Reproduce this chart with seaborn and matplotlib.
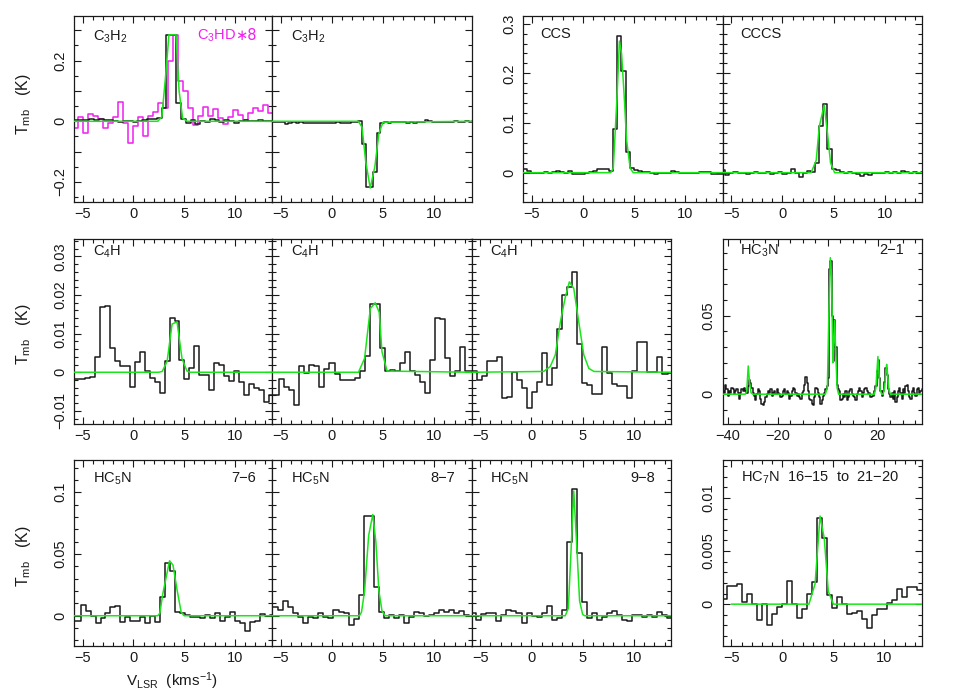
import numpy as np
import seaborn as sns
import matplotlib
matplotlib.use("Agg")
import matplotlib.pyplot as plt
from matplotlib.ticker import MultipleLocator, FuncFormatter

# ---- observed spectra: first channel edge (km/s), channel width (km/s), Tmb (K) per channel ----
c3h2_v0, c3h2_dv = -5.775, 0.475
c3h2_em = [0.004, 0.005, 0.004, 0.006, 0.005, 0.007, 0.004, 0.003, 0.001, -0.003,
           0.000, 0.002, -0.001, 0.002, 0.003, 0.008, 0.006, 0.010, 0.043, 0.285,
           0.285, 0.060, 0.008, -0.004, 0.004, -0.008, 0.002, -0.003, 0.006, 0.003,
           -0.002, 0.004, 0.002, -0.004, 0.001, 0.003, 0.002, 0.001, 0.003, 0.002, 0.001]

c3hd_v0, c3hd_dv = -5.9, 0.49
c3hd_x8 = [-0.023, 0.013, -0.040, 0.023, 0.018, 0.008, -0.023, -0.004, 0.013, 0.065,
           -0.004, -0.070, -0.015, 0.013, -0.048, 0.018, 0.032, 0.060, 0.043, 0.200,
           0.285, 0.134, 0.100, 0.045, -0.011, 0.018, 0.046, 0.018, 0.040, 0.010,
           -0.010, 0.015, 0.037, 0.021, 0.004, 0.026, 0.043, 0.034, 0.054, 0.026]

c3h2_abs_v0, c3h2_abs_dv = -6.06, 0.36
c3h2_abs = [-0.002, -0.001, -0.002, -0.003, -0.009, -0.006, -0.003, -0.004, -0.003, -0.004,
            -0.005, -0.004, -0.005, -0.006, -0.005, -0.004, -0.005, -0.004, -0.003, -0.005,
            -0.004, -0.006, -0.003, -0.002, 0.002, -0.076, -0.215, -0.215, -0.166, -0.040,
            -0.005, -0.003, -0.004, -0.003, -0.002, -0.003, -0.002, -0.004, -0.003, -0.005,
            -0.003, -0.001, 0.004, 0.000, -0.002, -0.001, -0.002, -0.001, -0.002, -0.001,
            0.000, -0.001, -0.001, 0.000, -0.001, 0.000]

ccs_v0, ccs_dv = -5.85, 0.4
ccs = [0.007, 0.003, 0.000, 0.000, -0.001, 0.001, 0.000, 0.001, 0.003, 0.002,
       0.000, 0.003, -0.002, -0.003, -0.003, 0.000, 0.002, 0.003, 0.007, 0.007,
       0.008, 0.004, 0.087, 0.275, 0.205, 0.042, 0.009, 0.006, 0.004, 0.001,
       0.002, -0.001, -0.002, 0.000, 0.000, 0.000, 0.004, 0.002, 0.000, -0.001,
       -0.001, 0.000, 0.000, 0.002, 0.002, 0.001, -0.002, -0.003, -0.002]

cccs_v0, cccs_dv = -6.0, 0.4
cccs = [0.006, -0.004, 0.000, 0.001, -0.001, 0.000, -0.002, 0.000, 0.001, -0.001,
        0.000, 0.001, -0.002, 0.000, 0.001, -0.002, 0.000, 0.008, -0.001, -0.008,
        0.000, 0.003, 0.002, 0.019, 0.093, 0.138, 0.048, 0.008, 0.005, 0.002,
        0.000, 0.001, 0.000, -0.002, -0.006, -0.003, -0.005, 0.000, -0.001, 0.000,
        0.002, 0.000, 0.002, 0.000, 0.003, 0.001, -0.001, 0.002, 0.000, 0.001]

c4h_a_v0, c4h_a_dv = -5.75, 0.49
c4h_a = [-0.0017, -0.0017, -0.0015, -0.0013, 0.0039, 0.0168, 0.0172, 0.0062, 0.0028, 0.0016,
         0.0016, -0.0039, 0.0026, 0.0052, 0.0002, -0.0016, -0.0024, -0.0054, 0.0030, 0.0140,
         0.0133, 0.0032, -0.0017, 0.0010, 0.0068, -0.0007, -0.0007, -0.0047, 0.0023, 0.0019,
         -0.0011, -0.0022, 0.0002, -0.0024, -0.0059, -0.0031, -0.0041, -0.0046, -0.0076, -0.0059]

c4h_b_v0, c4h_b_dv = -6.11, 0.49
c4h_b = [-0.0060, -0.0060, -0.0017, -0.0038, -0.0045, -0.0085, 0.0016, -0.0002, 0.0020, 0.0016,
         -0.0037, 0.0009, 0.0024, -0.0004, -0.0020, -0.0020, -0.0020, -0.0014, 0.0003, 0.0043,
         0.0176, 0.0176, 0.0062, 0.0002, 0.0007, 0.0002, 0.0024, 0.0052, 0.0004, -0.0007,
         -0.0024, -0.0055, 0.0032, 0.0141, 0.0138, 0.0036, -0.0011, 0.0002, 0.0065, 0.0002, 0.0003]

c4h_c_v0, c4h_c_dv = -6.32, 0.49
c4h_c = [0.0003, 0.0003, -0.0020, -0.0010, 0.0030, 0.0030, 0.0040, -0.0066, -0.0063, 0.0000,
         -0.0020, -0.0040, -0.0093, -0.0050, -0.0024, 0.0050, -0.0034, 0.0010, 0.0111, 0.0200,
         0.0220, 0.0260, 0.0073, -0.0028, -0.0033, -0.0057, -0.0057, 0.0066, -0.0001, -0.0030,
         -0.0035, -0.0035, -0.0066, 0.0004, 0.0078, 0.0078, 0.0000, 0.0000, 0.0040, -0.0005, -0.0003]

hc3n_v0, hc3n_dv = -42.0, 0.5
hc3n = [0.002, 0.001, 0.006, 0.003, -0.001, 0.002, 0.001, 0.004, 0.003, 0.000,
        0.002, 0.003, 0.001, -0.003, 0.001, 0.003, 0.002, 0.004, 0.002, 0.001,
        0.005, 0.009, 0.007, 0.004, 0.001, -0.001, -0.004, 0.000, 0.003, 0.002,
        -0.003, -0.006, -0.007, -0.005, -0.002, 0.000, 0.002, 0.001, 0.003, -0.001,
        0.001, 0.002, 0.000, 0.003, 0.001, 0.000, -0.002, -0.001, 0.002, 0.003,
        0.000, 0.002, 0.001, -0.003, -0.001, 0.002, 0.004, 0.003, 0.001, -0.001,
        0.000, -0.002, -0.003, 0.001, 0.002, 0.006, 0.011, 0.007, 0.002, -0.003,
        -0.004, -0.006, -0.007, -0.002, 0.004, 0.003, 0.001, -0.002, -0.006, -0.004,
        -0.001, 0.001, 0.003, 0.005, 0.010, 0.080, 0.085, 0.050, 0.021, 0.047,
        0.030, 0.006, 0.003, 0.002, -0.004, -0.003, 0.000, -0.002, 0.002, -0.004,
        -0.002, 0.002, 0.003, 0.000, -0.001, -0.002, -0.004, 0.000, 0.002, 0.004,
        0.002, -0.002, 0.001, 0.003, 0.004, 0.002, 0.000, 0.001, -0.002, -0.001,
        -0.001, 0.002, 0.005, 0.015, 0.022, 0.010, 0.002, -0.001, 0.002, 0.008,
        0.0165, 0.012, 0.003, 0.000, -0.002, 0.001, -0.003, 0.002, -0.005, -0.002,
        0.002, 0.004, 0.001, -0.003, 0.003, 0.001, 0.005, 0.006, 0.002, -0.002,
        -0.003, 0.002, 0.004, 0.001, -0.001, 0.003, 0.004, 0.001, 0.002, 0.003]

hc5n_76_v0, hc5n_76_dv = -6.18, 0.49
hc5n_76 = [-0.004, -0.004, 0.0084, 0.004, 0.000, -0.006, -0.002, 0.002, 0.007, 0.008,
           -0.005, -0.001, -0.004, -0.004, -0.001, -0.006, 0.000, -0.005, 0.0154, 0.043,
           0.036, 0.003, 0.002, 0.001, -0.001, -0.0013, -0.002, 0.0005, -0.002, 0.002,
           -0.004, -0.001, 0.003, -0.004, -0.006, -0.012, -0.005, -0.004, 0.0013, -0.0003,
           0.0005, 0.000]

hc5n_87_v0, hc5n_87_dv = -6.21, 0.49
hc5n_87 = [0.0073, 0.0073, 0.005, 0.012, 0.007, 0.002, -0.001, -0.006, -0.001, -0.002,
           0.002, -0.001, -0.002, 0.005, 0.003, 0.002, -0.0076, -0.003, 0.017, 0.081,
           0.081, 0.023, 0.003, -0.002, 0.0005, -0.0015, 0.001, -0.006, -0.001, 0.003,
           0.002, 0.000, 0.0005, 0.002, 0.005, 0.003, 0.005, 0.002, 0.004, 0.001, 0.000]

hc5n_98_v0, hc5n_98_dv = -6.36, 0.49
hc5n_98 = [0.000, 0.002, -0.0035, 0.0015, 0.0025, 0.002, -0.004, 0.001, 0.005, 0.004,
           0.0025, -0.006, 0.002, 0.000, -0.001, 0.0025, 0.008, -0.0035, -0.002, 0.0046,
           0.060, 0.1024, 0.0505, 0.011, -0.002, 0.002, -0.0035, -0.001, 0.002, 0.004,
           0.0005, -0.0035, -0.004, 0.0005, 0.001, -0.001, 0.0005, -0.001, 0.003, 0.0005,
           -0.002, -0.001]

hc7n_v0, hc7n_dv = -5.89, 0.49
hc7n = [0.0005, 0.0017, 0.0017, 0.0019, 0.0002, 0.0010, 0.0000, -0.0015, 0.0000, -0.0020,
        -0.0009, -0.0003, 0.0000, 0.0022, 0.0000, -0.0013, -0.0005, 0.0010, 0.0021, 0.0081,
        0.0062, 0.0009, -0.0004, 0.0007, 0.0000, -0.0009, -0.0008, -0.0006, -0.0014, -0.0022,
        -0.0010, -0.0005, -0.0005, 0.0001, 0.0004, 0.0014, 0.0007, 0.0016, 0.0016, 0.0013]

# ---- fitted profiles (green), read as (velocity, Tmb) vertices ----
c3h2_em_fit_v = [-5.85, 2.4, 2.8, 3.2, 3.5, 4.2, 4.5, 4.85, 5.3, 13.65]
c3h2_em_fit_t = [0.0, 0.0, 0.015, 0.16, 0.285, 0.285, 0.10, 0.01, 0.0, 0.0]
c3h2_abs_fit_v = [-5.85, 2.6, 2.95, 3.3, 3.75, 4.2, 4.6, 5.0, 13.65]
c3h2_abs_fit_t = [0.0, 0.0, -0.02, -0.13, -0.22, -0.15, -0.04, -0.003, 0.0]
ccs_fit_v = [-5.85, 2.7, 2.95, 3.3, 3.55, 3.76, 4.0, 4.25, 4.6, 4.9, 13.65]
ccs_fit_t = [0.0, 0.0, 0.009, 0.146, 0.265, 0.24, 0.16, 0.066, 0.009, 0.0, 0.0]
cccs_fit_v = [-5.85, 2.8, 3.3, 3.6, 4.08, 4.4, 4.7, 5.1, 13.65]
cccs_fit_t = [0.0, 0.0, 0.025, 0.093, 0.136, 0.08, 0.02, 0.0, 0.0]
c4h_a_fit_v = [-5.85, 2.5, 2.83, 3.32, 3.81, 4.30, 4.79, 5.28, 5.6, 13.65]
c4h_a_fit_t = [0.0, 0.0, 0.0002, 0.0028, 0.0125, 0.013, 0.0035, 0.0003, 0.0, 0.0]
c4h_b_fit_v = [-5.85, 2.6, 3.2, 3.76, 4.24, 4.63, 4.9, 5.4, 13.65]
c4h_b_fit_t = [0.0, 0.0, 0.0036, 0.0165, 0.018, 0.0155, 0.0053, 0.0003, 0.0]
c4h_c_fit_v = [-5.85, 1.19, 1.84, 2.33, 2.82, 3.31, 3.7, 4.13, 4.62, 5.11, 5.6, 6.1, 13.65]
c4h_c_fit_t = [0.0, 0.0002, 0.0015, 0.0045, 0.013, 0.0195, 0.0234, 0.0217, 0.013, 0.0045, 0.001, 0.0002, 0.0]
hc3n_fit_v = [-42.0, -33.0, -32.4, -31.8, -31.3, -30.7, -30.0, -1.0, -0.2, 0.4, 1.0, 1.5, 2.0,
              2.3, 2.7, 3.2, 3.7, 4.3, 18.6, 19.2, 19.6, 20.0, 20.4, 20.9, 21.5, 22.1, 22.7,
              23.2, 23.5, 23.9, 24.4, 25.0, 37.5]
hc3n_fit_t = [0.0, 0.0, 0.002, 0.018, 0.008, 0.001, 0.0, 0.0, 0.004, 0.05, 0.087, 0.075, 0.02,
              0.03, 0.047, 0.025, 0.004, 0.0, 0.0, 0.004, 0.014, 0.024, 0.014, 0.003, 0.0, 0.0, 0.004,
              0.015, 0.019, 0.012, 0.003, 0.0, 0.0]
hc5n_76_fit_v = [-5.85, 2.4, 2.6, 2.9, 3.56, 3.9, 4.3, 4.7, 5.0, 13.65]
hc5n_76_fit_t = [0.0, 0.0, 0.002, 0.018, 0.0445, 0.041, 0.021, 0.003, 0.0, 0.0]
hc5n_87_fit_v = [-5.85, 2.7, 2.9, 3.2, 3.6, 4.0, 4.3, 4.6, 4.9, 5.2, 13.65]
hc5n_87_fit_t = [0.0, 0.0, 0.003, 0.02, 0.065, 0.082, 0.06, 0.02, 0.004, 0.0, 0.0]
hc5n_98_fit_v = [-5.85, 3.3, 3.6, 3.85, 4.13, 4.4, 4.7, 5.0, 5.2, 13.65]
hc5n_98_fit_t = [0.0, 0.0, 0.006, 0.05, 0.101, 0.06, 0.012, 0.001, 0.0, 0.0]
hc7n_fit_v = [-5.0, 2.6, 3.2, 3.69, 4.1, 4.5, 5.0, 13.65]
hc7n_fit_t = [0.0, 0.0, 0.0019, 0.0083, 0.0062, 0.0012, 0.0, 0.0]

GREEN = "#19e619"
MAGENTA = "#f01ef0"
INK = "#1a1a1a"

sns.set_style("ticks")
plt.rcParams["font.family"] = ["Liberation Sans", "DejaVu Sans"]
plt.rcParams["mathtext.fontset"] = "custom"
plt.rcParams["mathtext.rm"] = "Liberation Sans"
plt.rcParams["mathtext.it"] = "Liberation Sans:italic"
plt.rcParams["mathtext.bf"] = "Liberation Sans:bold"

W, H = 957, 695
fig = plt.figure(figsize=(W / 100, H / 100), dpi=100)


def add_axes(x0, x1, y0, y1):
    # pixel box of the frame -> figure fraction
    return fig.add_axes([x0 / W, 1 - y1 / H, (x1 - x0) / W, (y1 - y0) / H])


def steps(ax, v0, dv, tmb, color=INK, lw=1.1, z=2):
    tmb = np.asarray(tmb, dtype=float)
    edges = v0 + dv * np.arange(len(tmb) + 1)
    sns.lineplot(x=edges, y=np.append(tmb, tmb[-1]), ax=ax, color=color, lw=lw,
                 drawstyle="steps-post", estimator=None, sort=False, zorder=z)


def fit(ax, v, t):
    sns.lineplot(x=np.asarray(v), y=np.asarray(t), ax=ax, color=GREEN, lw=1.1,
                 estimator=None, sort=False, zorder=3)


def label_fmt(every=None):
    def f(val, pos):
        if every is not None and abs(val / every - round(val / every)) > 1e-6:
            return ""
        if abs(val) < 1e-12:
            return "0"
        return ("%g" % val).replace("-", "\u2212")
    return FuncFormatter(f)


def style(ax, xlim, ylim, xt, yt, ylabels=True, yevery=None):
    ax.set_xlim(xlim)
    ax.set_ylim(ylim)
    ax.xaxis.set_major_locator(MultipleLocator(xt[0]))
    ax.xaxis.set_minor_locator(MultipleLocator(xt[1]))
    ax.yaxis.set_major_locator(MultipleLocator(yt[0]))
    ax.yaxis.set_minor_locator(MultipleLocator(yt[1]))
    ax.xaxis.set_major_formatter(label_fmt())
    ax.yaxis.set_major_formatter(label_fmt(yevery))
    ax.tick_params(which="both", direction="in", top=True, right=True,
                   labelsize=10.5, width=0.8, color=INK, labelcolor=INK)
    ax.tick_params(which="major", length=5)
    ax.tick_params(which="minor", length=2.8)
    ax.tick_params(axis="y", labelrotation=90, pad=5)
    ax.tick_params(axis="x", pad=3.5)
    if not ylabels:
        ax.tick_params(axis="y", labelleft=False)
    for s in ax.spines.values():
        s.set_linewidth(0.9)
        s.set_color(INK)
    ax.set_xlabel("")
    ax.set_ylabel("")


def tag(ax, x, y, s, ha="left", color=INK, **kw):
    return ax.text(x, y, s, transform=ax.transAxes, ha=ha, va="baseline",
                   fontsize=10.5, color=color, zorder=5, **kw)


VNARROW = (-5.85, 13.65)
XT = (5, 1)

# ---- row 1 ----
r1 = (15.7, 202.0)
ax_c3h2 = add_axes(74, 272, *r1)
ax = ax_c3h2
steps(ax, c3hd_v0, c3hd_dv, c3hd_x8, color=MAGENTA, lw=1.1, z=1)
steps(ax, c3h2_v0, c3h2_dv, c3h2_em)
fit(ax, c3h2_em_fit_v, c3h2_em_fit_t)
style(ax, VNARROW, (-0.266, 0.348), XT, (0.1, 0.05), yevery=0.2)
tag(ax, 0.095, 0.869, "C$_3$H$_2$")
star = tag(ax, 0.92, 0.872, "\u22178", ha="right", color=MAGENTA, family="DejaVu Sans")
axes = [ax]

ax = add_axes(272, 471.5, *r1)
steps(ax, c3h2_abs_v0, c3h2_abs_dv, c3h2_abs)
fit(ax, c3h2_abs_fit_v, c3h2_abs_fit_t)
style(ax, VNARROW, (-0.266, 0.348), XT, (0.1, 0.05), ylabels=False)
tag(ax, 0.095, 0.869, "C$_3$H$_2$")
axes.append(ax)

ax = add_axes(523.3, 722.7, *r1)
steps(ax, ccs_v0, ccs_dv, ccs)
fit(ax, ccs_fit_v, ccs_fit_t)
style(ax, VNARROW, (-0.059, 0.316), XT, (0.1, 0.02))
tag(ax, 0.087, 0.882, "CCS")
axes.append(ax)

ax = add_axes(722.7, 922, *r1)
steps(ax, cccs_v0, cccs_dv, cccs)
fit(ax, cccs_fit_v, cccs_fit_t)
style(ax, VNARROW, (-0.059, 0.316), XT, (0.1, 0.02), ylabels=False)
tag(ax, 0.087, 0.882, "CCCS")
axes.append(ax)

# ---- row 2 ----
r2 = (239.0, 424.0)
c4h_ylim = (-0.0134, 0.0345)
c4h_sets = [(74, 272, c4h_a_v0, c4h_a_dv, c4h_a, c4h_a_fit_v, c4h_a_fit_t, True),
            (272, 471.5, c4h_b_v0, c4h_b_dv, c4h_b, c4h_b_fit_v, c4h_b_fit_t, False),
            (471.5, 671.3, c4h_c_v0, c4h_c_dv, c4h_c, c4h_c_fit_v, c4h_c_fit_t, False)]
for x0, x1, v0, dv, t, fv, ft, lab in c4h_sets:
    ax = add_axes(x0, x1, *r2)
    steps(ax, v0, dv, t)
    fit(ax, fv, ft)
    style(ax, VNARROW, c4h_ylim, XT, (0.01, 0.002), ylabels=lab)
    tag(ax, 0.094, 0.91, "C$_4$H")
    axes.append(ax)

ax = add_axes(722.7, 921.7, *r2)
steps(ax, hc3n_v0, hc3n_dv, hc3n)
fit(ax, hc3n_fit_v, hc3n_fit_t)
style(ax, (-42.0, 37.5), (-0.019, 0.0989), (20, 5), (0.05, 0.01))
tag(ax, 0.087, 0.917, "HC$_3$N")
tag(ax, 0.91, 0.917, "2\u22121", ha="right")
axes.append(ax)

# ---- row 3 ----
r3 = (459.5, 646.0)
hc5n_ylim = (-0.0245, 0.1265)
hc5n_sets = [(74, 272, hc5n_76_v0, hc5n_76_dv, hc5n_76, hc5n_76_fit_v, hc5n_76_fit_t, True, "7\u22126"),
             (272, 471.5, hc5n_87_v0, hc5n_87_dv, hc5n_87, hc5n_87_fit_v, hc5n_87_fit_t, False, "8\u22127"),
             (471.5, 671.3, hc5n_98_v0, hc5n_98_dv, hc5n_98, hc5n_98_fit_v, hc5n_98_fit_t, False, "9\u22128")]
for x0, x1, v0, dv, t, fv, ft, lab, trans in hc5n_sets:
    ax = add_axes(x0, x1, *r3)
    steps(ax, v0, dv, t)
    fit(ax, fv, ft)
    style(ax, VNARROW, hc5n_ylim, XT, (0.05, 0.01), ylabels=lab)
    tag(ax, 0.094, 0.878, "HC$_5$N")
    tag(ax, 0.92, 0.878, trans, ha="right")
    axes.append(ax)

ax = add_axes(722.7, 921.7, *r3)
steps(ax, hc7n_v0, hc7n_dv, hc7n)
fit(ax, hc7n_fit_v, hc7n_fit_t)
style(ax, VNARROW, (-0.00394, 0.01362), XT, (0.005, 0.001))
tag(ax, 0.09, 0.883, "HC$_7$N  16\u221215  to  21\u221220")
axes.append(ax)

# ---- axis titles ----
for yc in (0.850, 0.519, 0.200):
    fig.text(0.025, yc, "T$_{\\rm mb}$   (K)", rotation=90, ha="center", va="center",
             fontsize=11.5, color=INK)
fig.text(0.180, 0.0125, "V$_{\\rm LSR}$  (kms$^{-1}$)", ha="center", va="baseline",
         fontsize=11, color=INK)

# "C3HD" sits just left of the "*8" written in a font that has the operator glyph
fig.canvas.draw()
bb = star.get_window_extent(fig.canvas.get_renderer())
x_left = ax_c3h2.transAxes.inverted().transform((bb.x0, bb.y0))[0]
tag(ax_c3h2, x_left + 0.008, 0.872, "C$_3$HD", ha="right", color=MAGENTA)

for a in axes:
    plt.setp(a.get_yticklabels(), va="center")

fig.savefig("out.png", dpi=100)
